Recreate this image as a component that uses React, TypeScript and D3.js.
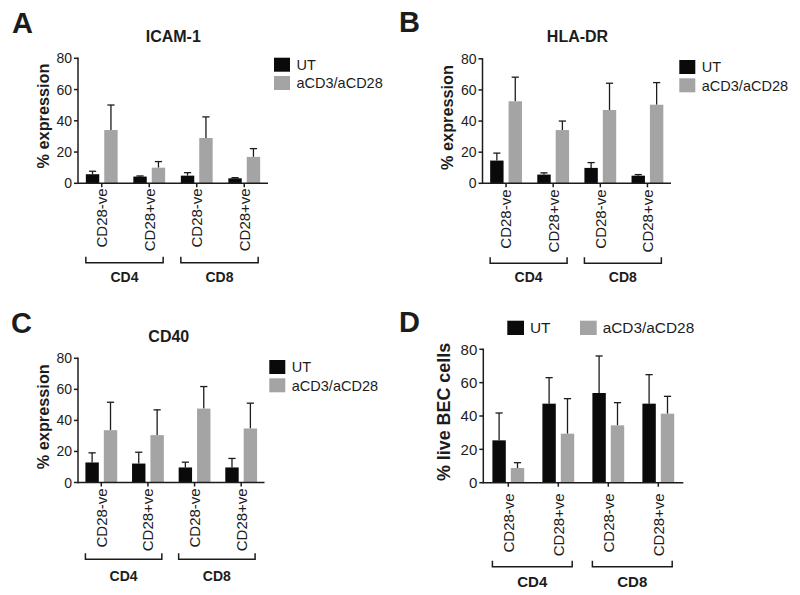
import React from "react";
import * as d3 from "d3";

const categories = ["CD28-ve", "CD28+ve", "CD28-ve", "CD28+ve"];
const groups = ["CD4", "CD8"];
const seriesNames = ["UT", "aCD3/aCD28"];
const yTicks = [0, 20, 40, 60, 80];

const icamUT = [5.8, 4.3, 4.9, 3.2];
const icamUTErr = [1.9, 0.4, 1.9, 0.4];
const icamStim = [34.1, 10.0, 29.0, 16.9];
const icamStimErr = [16.0, 3.9, 13.5, 5.3];

const hlaUT = [14.6, 5.6, 9.9, 4.9];
const hlaUTErr = [4.8, 1.1, 3.4, 0.7];
const hlaStim = [52.7, 34.2, 47.1, 50.5];
const hlaStimErr = [15.5, 5.8, 17.2, 14.2];

const cd40UT = [12.9, 12.2, 9.7, 9.7];
const cd40UTErr = [6.2, 7.3, 3.4, 5.8];
const cd40Stim = [33.7, 30.5, 47.6, 34.8];
const cd40StimErr = [18.0, 16.3, 14.2, 16.3];

const becUT = [25.4, 47.4, 53.8, 47.4];
const becUTErr = [16.4, 15.6, 22.2, 17.4];
const becStim = [8.8, 29.4, 34.4, 41.4];
const becStimErr = [3.2, 21.0, 13.6, 10.4];

const FONT = "'Liberation Sans', Arial, Helvetica, sans-serif";
const BLACK = "#0a0a0a";
const GRAY = "#a4a4a4";
const INK = "#1c1c1c";

type Cfg = {
  letter: string;
  letterX: number;
  letterY: number;
  title?: string;
  titleX?: number;
  titleY?: number;
  yLabel: string;
  yLabelX: number;
  yLabelY: number;
  yLabelSize: number;
  x0: number;
  x1: number;
  yTop: number;
  y0: number;
  tickSize: number;
  catTop: number;
  bracketY: number;
  groupY: number;
  groupSize: number;
  legend: "right" | "top";
  legX: number;
  legY: number;
  legSize: number;
  ut: number[];
  utErr: number[];
  stim: number[];
  stimErr: number[];
};

function Panel({ c }: { c: Cfg }) {
  const x = d3.scaleBand<string>().domain(d3.range(categories.length).map(String)).range([c.x0, c.x1]).paddingInner(0).paddingOuter(0);
  const y = d3.scaleLinear().domain([0, 80]).range([c.y0, c.yTop]);
  const bw = 13.4;
  const gap = 5;
  const pad = (x.bandwidth() - 2 * bw - gap) / 2;
  const series = [
    { vals: c.ut, errs: c.utErr, color: BLACK },
    { vals: c.stim, errs: c.stimErr, color: GRAY },
  ];
  const barX = (i: number, s: number) => (x(String(i)) as number) + pad + s * (bw + gap);
  const brackets = groups.map((g, gi) => {
    const l = barX(gi * 2, 0);
    const r = barX(gi * 2 + 1, 1) + bw - 2;
    return { g, l, r };
  });
  return (
    <g fontFamily={FONT}>
      <text x={c.letterX} y={c.letterY} fontSize={29} fontWeight="bold" fill={INK}>{c.letter}</text>
      {c.title && (
        <text x={c.titleX} y={c.titleY} fontSize={16} fontWeight="bold" textAnchor="middle" fill={INK}>{c.title}</text>
      )}
      <text transform={`translate(${c.yLabelX},${c.yLabelY}) rotate(-90)`} fontSize={c.yLabelSize} fontWeight="bold" textAnchor="middle" fill={INK}>{c.yLabel}</text>
      {series.map((s, si) =>
        s.vals.map((v, i) => {
          const bx = barX(i, si);
          const cx = bx + bw / 2;
          const top = y(v + s.errs[i]);
          return (
            <g key={`${si}-${i}`}>
              <line x1={cx} x2={cx} y1={y(v)} y2={top} stroke={INK} strokeWidth={1.3} />
              <line x1={cx - 3.6} x2={cx + 3.6} y1={top} y2={top} stroke={INK} strokeWidth={1.3} />
              <rect x={bx} y={y(v)} width={bw} height={c.y0 - y(v)} fill={s.color} />
            </g>
          );
        })
      )}
      <line x1={c.x0} x2={c.x0} y1={c.yTop - 0.7} y2={c.y0 + 0.7} stroke={INK} strokeWidth={1.5} />
      <line x1={c.x0} x2={c.x1} y1={c.y0} y2={c.y0} stroke={INK} strokeWidth={1.5} />
      {yTicks.map((t) => (
        <g key={t}>
          <line x1={c.x0 - 4} x2={c.x0} y1={y(t)} y2={y(t)} stroke={INK} strokeWidth={1.5} />
          <text x={c.x0 - 6} y={y(t)} dy="0.36em" fontSize={c.tickSize} textAnchor="end" fill={INK}>{t}</text>
        </g>
      ))}
      {categories.map((cat, i) => {
        const cx = (x(String(i)) as number) + x.bandwidth() / 2;
        return (
          <g key={i}>
            <line x1={cx} x2={cx} y1={c.y0} y2={c.y0 + 4} stroke={INK} strokeWidth={1.5} />
            <text transform={`translate(${cx},${c.catTop}) rotate(-90)`} dy="0.36em" fontSize={15} textAnchor="end" fill={INK}>{cat}</text>
          </g>
        );
      })}
      {brackets.map((b) => (
        <g key={b.g}>
          <path d={`M${b.l},${c.bracketY - 6}V${c.bracketY}H${b.r}V${c.bracketY - 6}`} fill="none" stroke={INK} strokeWidth={1.5} />
          <text x={(b.l + b.r) / 2} y={c.groupY} fontSize={c.groupSize} fontWeight="bold" textAnchor="middle" fill={INK}>{b.g}</text>
        </g>
      ))}
      {c.legend === "right"
        ? seriesNames.map((n, i) => (
            <g key={n}>
              <rect x={c.legX} y={c.legY + i * 18.3} width={16} height={14} fill={i === 0 ? BLACK : GRAY} />
              <text x={c.legX + 22.5} y={c.legY + i * 18.3 + 12.2} fontSize={c.legSize} fill={INK}>{n}</text>
            </g>
          ))
        : seriesNames.map((n, i) => (
            <g key={n}>
              <rect x={c.legX + i * 72.7} y={c.legY} width={16.7} height={14.3} fill={i === 0 ? BLACK : GRAY} />
              <text x={c.legX + i * 72.7 + 22.7} y={c.legY + 12.6} fontSize={c.legSize} fill={INK}>{n}</text>
            </g>
          ))}
    </g>
  );
}

const panels: Cfg[] = [
  {
    letter: "A", letterX: 12, letterY: 33, title: "ICAM-1", titleX: 173.3, titleY: 42,
    yLabel: "% expression", yLabelX: 49, yLabelY: 116, yLabelSize: 16.3,
    x0: 78, x1: 268, yTop: 58.3, y0: 183.3, tickSize: 14, catTop: 188.3,
    bracketY: 262.7, groupY: 281.7, groupSize: 14,
    legend: "right", legX: 274, legY: 57.7, legSize: 14.5,
    ut: icamUT, utErr: icamUTErr, stim: icamStim, stimErr: icamStimErr,
  },
  {
    letter: "B", letterX: 399, letterY: 32, title: "HLA-DR", titleX: 577.5, titleY: 42.3,
    yLabel: "% expression", yLabelX: 453, yLabelY: 117.5, yLabelSize: 16.3,
    x0: 482.5, x1: 671, yTop: 58.8, y0: 183.3, tickSize: 14, catTop: 189.5,
    bracketY: 263.3, groupY: 281.7, groupSize: 14,
    legend: "right", legX: 679.3, legY: 60, legSize: 14.5,
    ut: hlaUT, utErr: hlaUTErr, stim: hlaStim, stimErr: hlaStimErr,
  },
  {
    letter: "C", letterX: 11, letterY: 333.3, title: "CD40", titleX: 168.8, titleY: 342.3,
    yLabel: "% expression", yLabelX: 49, yLabelY: 416.7, yLabelSize: 16.3,
    x0: 78, x1: 264.5, yTop: 358.3, y0: 482.5, tickSize: 14, catTop: 488.3,
    bracketY: 559.3, groupY: 581, groupSize: 14,
    legend: "right", legX: 269.3, legY: 360, legSize: 14.5,
    ut: cd40UT, utErr: cd40UTErr, stim: cd40Stim, stimErr: cd40StimErr,
  },
  {
    letter: "D", letterX: 399, letterY: 331.7,
    yLabel: "% live BEC cells", yLabelX: 450, yLabelY: 412, yLabelSize: 17.9,
    x0: 483.3, x1: 683.3, yTop: 349.3, y0: 482.7, tickSize: 15, catTop: 493.3,
    bracketY: 566.7, groupY: 586.7, groupSize: 15,
    legend: "top", legX: 507.3, legY: 320.7, legSize: 15.4,
    ut: becUT, utErr: becUTErr, stim: becStim, stimErr: becStimErr,
  },
];

export default function App() {
  return (
    <svg width={800} height={595} style={{ position: "absolute", left: 0, top: 0, background: "#fff" }}>
      <rect width={800} height={595} fill="#fff" />
      {panels.map((p) => (
        <Panel key={p.letter} c={p} />
      ))}
    </svg>
  );
}
